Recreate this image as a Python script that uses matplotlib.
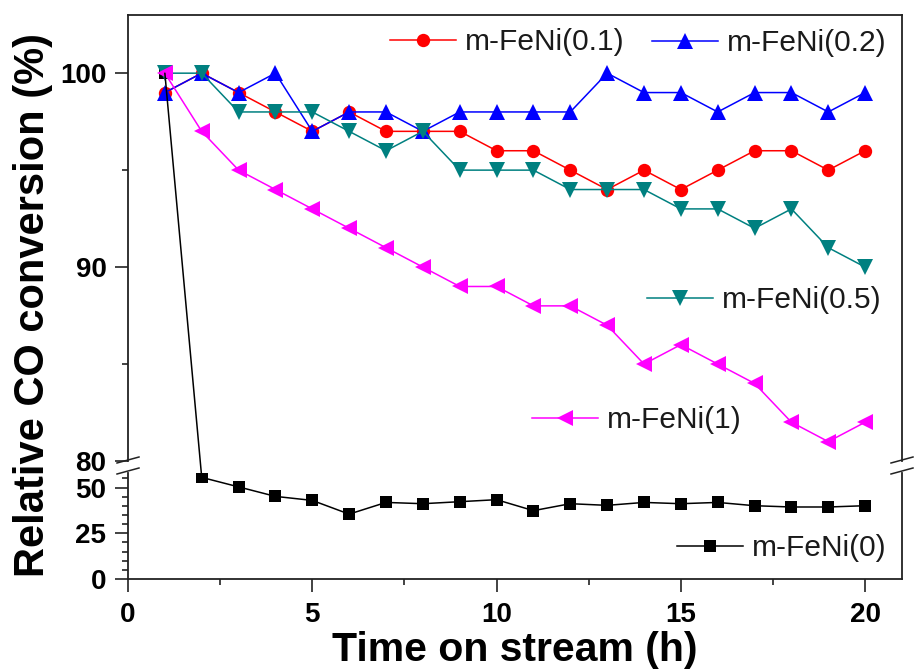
import matplotlib
matplotlib.use("Agg")
import matplotlib.pyplot as plt
from matplotlib.ticker import MultipleLocator
from matplotlib.lines import Line2D
from matplotlib.patches import ConnectionPatch

plt.rcParams["font.family"] = ["Liberation Sans", "DejaVu Sans"]

hours = list(range(1, 21))

conv_0 = [100, 55.6, 50.4, 45.2, 43.0, 35.5, 41.9, 41.2, 42.3, 43.4,
          37.4, 41.2, 40.3, 41.9, 41.2, 41.9, 40.1, 39.4, 39.4, 40.1]
conv_01 = [99, 100, 99, 98, 97, 98, 97, 97, 97, 96,
           96, 95, 94, 95, 94, 95, 96, 96, 95, 96]
conv_02 = [99, 100, 99, 100, 97, 98, 98, 97, 98, 98,
           98, 98, 100, 99, 99, 98, 99, 99, 98, 99]
conv_05 = [100, 100, 98, 98, 98, 97, 96, 97, 95, 95,
           95, 94, 94, 94, 93, 93, 92, 93, 91, 90]
conv_1 = [100, 97, 95, 94, 93, 92, 91, 90, 89, 89,
          88, 88, 87, 85, 86, 85, 84, 82, 81, 82]

labels = ["m-FeNi(0)", "m-FeNi(0.1)", "m-FeNi(0.2)", "m-FeNi(0.5)", "m-FeNi(1)"]
series = [conv_0, conv_01, conv_02, conv_05, conv_1]
colors = ["black", "#ff0000", "#0000ff", "#008080", "#ff00ff"]
markers = ["s", "o", "^", "v", "<"]
msizes = [9, 9.6, 11.5, 11.5, 11.5]

W, H = 914, 671
fig = plt.figure(figsize=(W / 100, H / 100), dpi=100)

left = 128 / W
width = 774 / W
ax_top = fig.add_axes([left, 1 - 461 / H, width, (461 - 15) / H])
ax_bot = fig.add_axes([left, 1 - 579 / H, width, (579 - 473) / H])

handles = []
for i, (vals, c, m, ms, lab) in enumerate(zip(series, colors, markers, msizes, labels)):
    style = dict(color=c, marker=m, markersize=ms, linewidth=1.1,
                 markeredgewidth=0, label=lab)
    if i == 0:
        # the unpromoted sample drops across the axis break after the first hour
        ax_top.plot(hours[:1], vals[:1], **style)
        ln, = ax_bot.plot(hours[1:], vals[1:], **style)
        fig.add_artist(ConnectionPatch(
            xyA=(hours[0], vals[0]), coordsA=ax_top.transData,
            xyB=(hours[1], vals[1]), coordsB=ax_bot.transData,
            color=c, linewidth=1.1, zorder=1))
    else:
        for ax in (ax_top, ax_bot):
            ln, = ax.plot(hours, vals, **style)
    handles.append(ln)

ax_top.set_xlim(0, 21)
ax_bot.set_xlim(0, 21)
ax_top.set_ylim(80, 103)
ax_bot.set_ylim(0, 58)

for ax in (ax_top, ax_bot):
    for s in ax.spines.values():
        s.set_color("#222222")
        s.set_linewidth(1.3)
ax_top.spines["bottom"].set_visible(False)
ax_bot.spines["top"].set_visible(False)

ax_top.yaxis.set_major_locator(MultipleLocator(10))
ax_top.yaxis.set_minor_locator(MultipleLocator(5))
ax_top.tick_params(axis="x", which="both", bottom=False, labelbottom=False)
ax_bot.yaxis.set_major_locator(MultipleLocator(25))
ax_bot.yaxis.set_minor_locator(MultipleLocator(5))
ax_bot.xaxis.set_major_locator(MultipleLocator(5))
ax_bot.xaxis.set_minor_locator(MultipleLocator(2.5))

for ax in (ax_top, ax_bot):
    ax.tick_params(which="major", direction="out", length=9.5, width=1.2,
                   color="#222222", pad=6, labelsize=20)
    ax.tick_params(which="minor", direction="out", length=4, width=1.2,
                   color="#222222")
    ax.tick_params(right=False, top=False, which="both")
    for t in ax.get_xticklabels() + ax.get_yticklabels():
        t.set_fontweight("bold")
ax_bot.tick_params(axis="x", which="major", pad=7)

# axis-break marks on both sides
for xb in (128, 902):
    for yb in (460, 471):
        fig.add_artist(Line2D([(xb - 11) / W, (xb + 11) / W],
                              [1 - (yb + 3) / H, 1 - (yb - 3) / H],
                              color="#222222", linewidth=1.1))

ax_bot.set_xlabel("Time on stream (h)", fontsize=29.5, fontweight="bold",
                  labelpad=2)
fig.text(33 / W, 1 - 305 / H, "Relative CO conversion (%)", rotation=90,
         fontsize=30, fontweight="bold", ha="center", va="center")

# one legend entry per curve, placed next to its curve
legend_pos = [(677, 548), (390, 42), (652, 43), (647, 300), (532, 420)]
for h, (px, py) in zip(handles, legend_pos):
    fig.legend(handles=[h], loc="center left",
               bbox_to_anchor=(px / W, 1 - py / H),
               bbox_transform=fig.transFigure, frameon=False,
               fontsize=21.5, handlelength=2.2, handletextpad=0.3,
               borderpad=0, borderaxespad=0, numpoints=1,
               labelcolor="#1a1a1a")

fig.savefig("out.png", dpi=100)
